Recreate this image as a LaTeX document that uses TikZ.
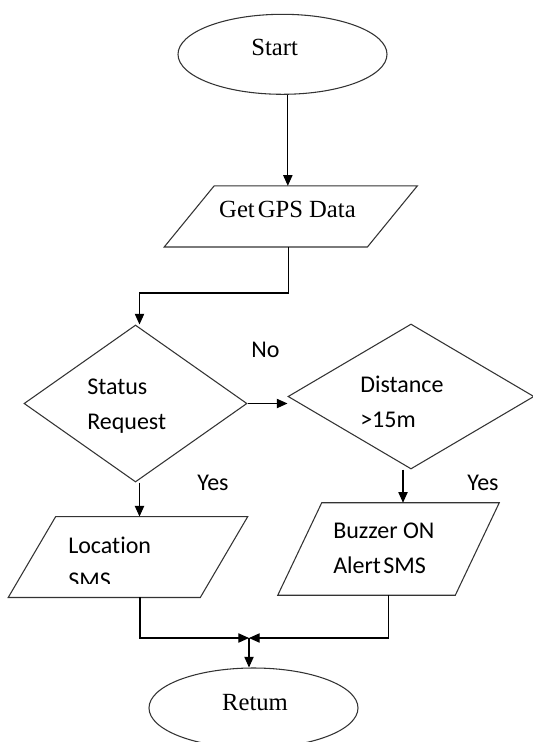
\documentclass[tikz,border=0pt]{standalone}
\usepackage{fontspec}
\setmainfont{Liberation Serif}
\newfontfamily\calibri[Ligatures={NoCommon,NoContextual}]{Carlito}
\usetikzlibrary{shapes.geometric,arrows.meta}

\tikzset{
  terminal/.style={ellipse, draw=black!80, line width=0.8pt, minimum width=156.75pt, minimum height=60pt, inner sep=0pt},
  decision/.style={diamond, draw=black!80, line width=0.8pt, inner sep=0pt},
  inout/.style={rectangle, inner sep=0pt},
  outline/.style={draw=black!80, line width=0.8pt, line join=miter},
  arr/.style={-{Triangle[length=8pt,width=7pt]}, line width=0.8pt},
  serif/.style={font=\fontsize{18.5pt}{22pt}\selectfont, inner sep=0pt},
  sans/.style={font=\calibri\fontsize{18pt}{26.25pt}\selectfont, align=left, inner sep=0pt}
}

\begin{document}
\begin{tikzpicture}[x=0.75pt,y=-0.75pt]
    \useasboundingbox (0,0) rectangle (532,742);

    % Shapes
    \node[terminal] (start) at (282.5,54.3) {};
    \node[inout, minimum width=189.5pt, minimum height=45.5pt] (gps) at (290.8,216.4) {};
    \node[decision, minimum width=167.25pt, minimum height=117.75pt] (sr) at (135.5,403.5) {};
    \node[decision, minimum width=184.5pt, minimum height=108.75pt] (dist) at (411,396.5) {};
    \node[inout, minimum width=179.25pt, minimum height=60.3pt] (loc) at (128,557) {};
    \node[inout, minimum width=165.75pt, minimum height=69pt] (buz) at (388.5,549) {};
    \node[terminal] (ret) at (253.5,708) {};

    % Parallelogram outlines
    \draw[outline] ([xshift=37.5pt]gps.north west) -- (gps.north east)
        -- ([xshift=-37.5pt]gps.south east) -- (gps.south west) -- cycle;
    \draw[outline] ([xshift=35.6pt]loc.north west) -- (loc.north east)
        -- ([xshift=-35.6pt]loc.south east) -- (loc.south west) -- cycle;
    \draw[outline] ([xshift=33pt]buz.north west) -- (buz.north east)
        -- ([xshift=-33pt]buz.south east) -- (buz.south west) -- cycle;

    % Texts
    \node[serif, anchor=base] (starttxt) at (274.6,56) {Start};
    \node[serif, anchor=base] (gpstxt) at (287.5,217) {Get\hspace{0.12em}GPS Data};
    \node[serif, anchor=base] (rettxt) at (255,710) {Retum};
    \node[sans, anchor=base west] (srtxt) at (87,429) {Status\\Request};
    \node[sans, anchor=base west] (disttxt) at (360,427) {Distance\\>15m};
    \begin{scope}
        \clip (0,0) rectangle (532,583);
        \node[sans, anchor=base west] (loctxt) at (68,588) {Location\\SMS};
    \end{scope}
    \node[sans, anchor=base west] (buztxt) at (333,573) {Buzzer ON\\Alert\hspace{0.1em}SMS};
    \node[sans, anchor=base west] (no) at (251,357) {No};
    \node[sans, anchor=base west] (yesl) at (197,490) {Yes};
    \node[sans, anchor=base west] (yesr) at (467,490) {Yes};

    % Connectors
    \coordinate (mrg) at (249,638);
    \draw[arr] ([xshift=4pt]start.south) -- ([xshift=4pt]start.south |- gps.north);
    \draw[arr] ([xshift=-2pt]gps.south) -- ++(0,46) -| ([xshift=3pt]sr.north);
    \draw[arr] (sr.east) -- (sr.east -| dist.west);
    \draw[arr] ([xshift=3pt]sr.south) -- ([xshift=3pt]sr.south |- loc.north);
    \draw[arr] ([xshift=-6pt]dist.south) -- ([xshift=-6pt]dist.south |- buz.north);
    \draw[arr] ([xshift=9pt]loc.south) |- (mrg);
    \draw[arr] (buz.south) |- (mrg);
    \draw[arr] (mrg) -- (mrg |- ret.north);
\end{tikzpicture}
\end{document}
